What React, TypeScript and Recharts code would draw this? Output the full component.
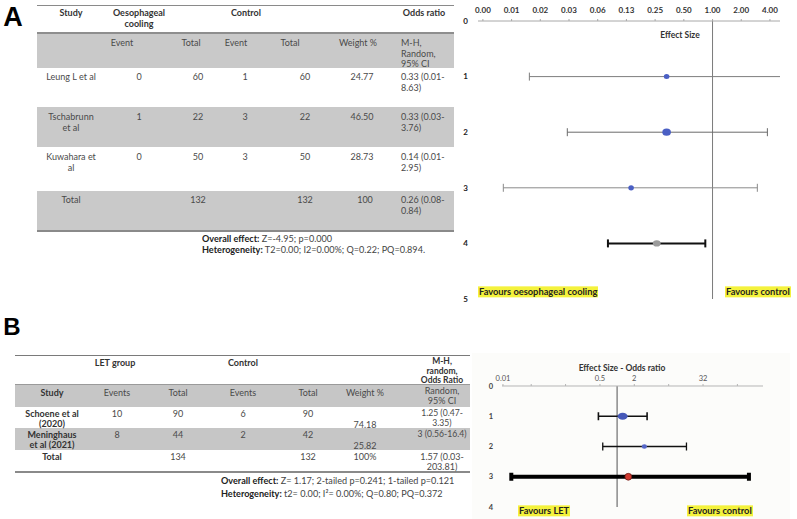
import React from 'react';
import { ScatterChart, Scatter, XAxis, YAxis, ErrorBar, ReferenceLine } from 'recharts';

const FONT = 'Lato, "Open Sans", sans-serif';

// ===== Panel A: table =====
const studiesA = ['Leung L et al', 'Tschabrunn\net al', 'Kuwahara et\nal'];
const coolingEventsA = [0, 1, 0];
const coolingTotalsA = [60, 22, 50];
const controlEventsA = [1, 3, 3];
const controlTotalsA = [60, 22, 50];
const weightsA = ['24.77', '46.50', '28.73'];
const ciTextA = ['0.33 (0.01-\n8.63)', '0.33 (0.03-\n3.76)', '0.14 (0.01-\n2.95)'];
const totalCoolingA = 132;
const totalControlA = 132;
const totalWeightA = '100';
const totalCiTextA = '0.26 (0.08-\n0.84)';
const overallEffectA = 'Z=-4.95; p=0.000';
const heterogeneityA = 'T2=0.00; I2=0.00%; Q=0.22; PQ=0.894.';

// ===== Panel A: forest plot =====
const forestRowsA = [1, 2, 3, 4];
const forestOrA = [0.33, 0.33, 0.14, 0.26];
const forestLowA = [0.012, 0.03, 0.0064, 0.08];
const forestHighA = [8.63, 3.76, 2.95, 0.84];
const xTicksA = [0.00390625, 0.0078125, 0.015625, 0.03125, 0.0625, 0.125, 0.25, 0.5, 1, 2, 4];
const yTicksA = [0, 1, 2, 3, 4, 5];

// ===== Panel B: table =====
const studiesB = ['Schoene et al\n(2020)', 'Meninghaus\net al (2021)'];
const letEventsB = [10, 8];
const letTotalsB = [90, 44];
const controlEventsB = [6, 2];
const controlTotalsB = [90, 42];
const weightsB = ['74.18', '25.82'];
const ciTextB = ['1.25 (0.47-\n3.35)', '3 (0.56-16.4)'];
const totalLetB = 134;
const totalControlB = 132;
const totalWeightB = '100%';
const totalCiTextB = '1.57 (0.03-\n203.81)';
const overallEffectB = 'Z= 1.17; 2-tailed p=0.241; 1-tailed p=0.121';
const heterogeneityB = 't2= 0.00; I\u00B2= 0.00%; Q=0.80; PQ=0.372';

// ===== Panel B: forest plot =====
const forestRowsB = [1, 2, 3];
const forestOrB = [1.25, 3, 1.57];
const forestLowB = [0.47, 0.56, 0.014];
const forestHighB = [3.35, 16.4, 203.81];
const xTicksB = [0.01, 0.03125, 0.125, 0.5, 2, 8, 32, 128];
const xTickLabelsB = ['0.01', '', '', '0.5', '2', '', '32', ''];
const yTicksB = [0, 1, 2, 3, 4];

// ===== styles =====
const markerStyleA = [
  { rx: 2.8, ry: 2.5, fill: '#4a5fc4', stroke: 'none' },
  { rx: 4.3, ry: 3.6, fill: '#4a5fc4', stroke: 'none' },
  { rx: 2.8, ry: 2.6, fill: '#4a5fc4', stroke: 'none' },
  { rx: 3.9, ry: 3.1, fill: '#9b9b9b', stroke: 'none' },
];
const ciStyleA = [
  { stroke: '#7d7d7d', width: 1 },
  { stroke: '#6a6a6a', width: 1 },
  { stroke: '#8a8a8a', width: 1 },
  { stroke: '#111111', width: 2 },
];
const markerStyleB = [
  { rx: 5, ry: 3.5, fill: '#4659b8', stroke: 'none' },
  { rx: 2.6, ry: 2.2, fill: '#5566c8', stroke: 'none' },
  { rx: 3.4, ry: 3.4, fill: '#d03a30', stroke: '#6a1a14' },
];
const ciStyleB = [
  { stroke: '#111111', width: 1.6 },
  { stroke: '#111111', width: 1.3 },
  { stroke: '#000000', width: 4 },
];

type TxtProps = {
  x: number; y: number; text: string | number; anchor?: 'start' | 'middle' | 'end';
  bold?: boolean; size?: number; color?: string; lh?: number; bg?: string; font?: string;
};
const Txt = ({ x, y, text, anchor = 'middle', bold = false, size = 9, color = '#4a4a4a', lh = 10.5, bg, font }: TxtProps) => {
  const lines = String(text).split('\n');
  const tx = anchor === 'start' ? '0' : anchor === 'end' ? '-100%' : '-50%';
  return (
    <>
      {lines.map((ln, i) => (
        <div
          key={i}
          style={{
            position: 'absolute', left: x, top: y + i * lh, transform: `translate(${tx}, -50%)`,
            fontSize: size, fontWeight: bold ? 700 : 400, color, whiteSpace: 'nowrap', lineHeight: 1,
            background: bg, padding: bg ? '1px 1px' : 0, fontFamily: font || FONT,
          }}
        >
          {ln}
        </div>
      ))}
    </>
  );
};

const Box = ({ x, y, w, h, c }: { x: number; y: number; w: number; h: number; c: string }) => (
  <div style={{ position: 'absolute', left: x, top: y, width: w, height: h, background: c }} />
);

const toLog = (v: number) => Math.log2(v);

const forestDataA = forestOrA.map((v, i) => ({
  x: toLog(v), y: forestRowsA[i],
  err: [toLog(v) - toLog(forestLowA[i]), toLog(forestHighA[i]) - toLog(v)],
}));
const forestDataB = forestOrB.map((v, i) => ({
  x: toLog(v), y: forestRowsB[i],
  err: [toLog(v) - toLog(forestLowB[i]), toLog(forestHighB[i]) - toLog(v)],
}));

const ForestA = () => (
  <ScatterChart width={320} height={310} margin={{ top: 0, right: 0, bottom: 11, left: 0 }}>
    <XAxis
      type="number" dataKey="x" orientation="top" domain={[-8.17, 2.35]} allowDataOverflow
      ticks={xTicksA.map(toLog)} interval={0}
      tickFormatter={(v: number) => Math.pow(2, v).toFixed(2)}
      height={21} axisLine={{ stroke: '#a8a8a8' }} tickLine={{ stroke: '#a8a8a8' }} tickSize={2} tickMargin={6}
      tick={{ fontSize: 8, fontWeight: 700, fill: '#333', fontFamily: FONT }}
    />
    <YAxis
      type="number" dataKey="y" domain={[0, 5]} reversed ticks={yTicksA} interval={0}
      width={18} axisLine={false} tickLine={false} tickSize={0} tickMargin={10}
      tick={{ fontSize: 8, fontWeight: 700, fill: '#222', fontFamily: FONT }}
    />
    <ReferenceLine x={0} stroke="#7a7a7a" strokeWidth={1} />
    {forestDataA.map((d, i) => (
      <Scatter
        key={i} data={[d]} isAnimationActive={false}
        shape={(p: any) => (
          <ellipse cx={p.cx} cy={p.cy} rx={markerStyleA[i].rx} ry={markerStyleA[i].ry}
            fill={markerStyleA[i].fill} stroke={markerStyleA[i].stroke} />
        )}
      >
        <ErrorBar dataKey="err" direction="x" width={4} stroke={ciStyleA[i].stroke}
          strokeWidth={ciStyleA[i].width} isAnimationActive={false} />
      </Scatter>
    ))}
  </ScatterChart>
);

const ForestB = () => (
  <ScatterChart width={318} height={166} margin={{ top: 0, right: 27, bottom: 12, left: 0 }}>
    <XAxis
      type="number" dataKey="x" orientation="top" domain={[-6.70, 8.49]} allowDataOverflow
      ticks={xTicksB.map(toLog)} interval={0}
      tickFormatter={(v: number) => {
        const idx = xTicksB.findIndex((t) => Math.abs(toLog(t) - v) < 1e-6);
        return idx >= 0 ? xTickLabelsB[idx] : '';
      }}
      height={33} axisLine={{ stroke: '#b5b5b5' }} tickLine={{ stroke: '#b5b5b5' }} tickSize={2} tickMargin={3}
      tick={{ fontSize: 7.5, fill: '#555', fontFamily: FONT }}
    />
    <YAxis
      type="number" dataKey="y" domain={[0, 4]} reversed ticks={yTicksB} interval={0}
      width={30} axisLine={false} tickLine={false} tickSize={0} tickMargin={9}
      tick={{ fontSize: 7.5, fontWeight: 700, fill: '#444', fontFamily: FONT }}
    />
    <ReferenceLine x={0} stroke="#8a8a8a" strokeWidth={1.5} />
    {forestDataB.map((d, i) => (
      <Scatter
        key={i} data={[d]} isAnimationActive={false}
        shape={(p: any) => (
          <ellipse cx={p.cx} cy={p.cy} rx={markerStyleB[i].rx} ry={markerStyleB[i].ry}
            fill={markerStyleB[i].fill} stroke={markerStyleB[i].stroke} strokeWidth={0.8} />
        )}
      >
        <ErrorBar dataKey="err" direction="x" width={4} stroke={ciStyleB[i].stroke}
          strokeWidth={ciStyleB[i].width} isAnimationActive={false} />
      </Scatter>
    ))}
  </ScatterChart>
);

// layout constants
const rowYA = [76, 116, 156];
const colA = { study: 71, ev1: 139, tot1: 198, ev2: 245, tot2: 305, w: 362, ci: 401 };
const rowYB = [413, 434];
const colB = { study: 52, ev1: 117, tot1: 178, ev2: 243, tot2: 308, w: 365, ci: 442 };

export default function App() {
  const sA = 9;
  const sB = 9;
  return (
    <div style={{ position: 'absolute', left: 0, top: 0, width: 797, height: 519, background: '#fff', overflow: 'hidden', fontFamily: FONT }}>
      {/* Panel labels */}
      <Txt x={13} y={17} text="A" bold size={27} color="#000" font='"Liberation Sans", Arial, sans-serif' />
      <Txt x={12} y={327} text="B" bold size={24} color="#000" font='"Liberation Sans", Arial, sans-serif' />

      {/* ===== Table A ===== */}
      <Box x={37} y={5} w={417} h={1} c="#8a8a8a" />
      <Box x={37} y={32} w={417} h={36} c="#c9c9c9" />
      <Box x={37} y={32} w={417} h={2} c="#8e8e8e" />
      <Box x={37} y={107} w={417} h={40} c="#c9c9c9" />
      <Box x={37} y={191} w={417} h={39} c="#c9c9c9" />
      <Box x={37} y={230} w={417} h={2} c="#8a8a8a" />

      <Txt x={71} y={12} text="Study" bold size={sA} color="#333" />
      <Txt x={139} y={12} text={'Oesophageal\ncooling'} bold size={sA} color="#333" />
      <Txt x={246} y={12} text="Control" bold size={sA} color="#333" />
      <Txt x={424} y={12} text="Odds ratio" bold size={sA} color="#333" />

      <Txt x={122} y={42} text="Event" size={sA} />
      <Txt x={191} y={42} text="Total" size={sA} />
      <Txt x={236} y={42} text="Event" size={sA} />
      <Txt x={290} y={42} text="Total" size={sA} />
      <Txt x={358} y={42} text="Weight %" size={sA} />
      <Txt x={401} y={42} text={'M-H,\nRandom,\n95% CI'} anchor="start" size={sA} />

      {studiesA.map((s, i) => (
        <React.Fragment key={i}>
          <Txt x={colA.study} y={rowYA[i]} text={s} size={sA} />
          <Txt x={colA.ev1} y={rowYA[i]} text={coolingEventsA[i]} size={sA} />
          <Txt x={colA.tot1} y={rowYA[i]} text={coolingTotalsA[i]} size={sA} />
          <Txt x={colA.ev2} y={rowYA[i]} text={controlEventsA[i]} size={sA} />
          <Txt x={colA.tot2} y={rowYA[i]} text={controlTotalsA[i]} size={sA} />
          <Txt x={colA.w} y={rowYA[i]} text={weightsA[i]} size={sA} />
          <Txt x={colA.ci} y={rowYA[i]} text={ciTextA[i]} anchor="start" size={sA} />
        </React.Fragment>
      ))}
      <Txt x={colA.study} y={199} text="Total" size={sA} />
      <Txt x={colA.tot1} y={199} text={totalCoolingA} size={sA} />
      <Txt x={colA.tot2} y={199} text={totalControlA} size={sA} />
      <Txt x={365} y={199} text={totalWeightA} size={sA} />
      <Txt x={colA.ci} y={199} text={totalCiTextA} anchor="start" size={sA} />

      <div style={{ position: 'absolute', left: 202, top: 234, fontSize: 9.1, color: '#444', lineHeight: '10.5px', whiteSpace: 'nowrap' }}>
        <div><b style={{ color: '#222' }}>Overall effect:</b> {overallEffectA}</div>
        <div><b style={{ color: '#222' }}>Heterogeneity:</b> {heterogeneityA}</div>
      </div>

      {/* ===== Forest A ===== */}
      <div style={{ position: 'absolute', left: 460, top: 0 }}>
        <ForestA />
      </div>
      <Txt x={680} y={35} text="Effect Size" bold size={8.5} color="#333" />
      <Txt x={478} y={292} text="Favours oesophageal cooling" anchor="start" bold size={9.3} color="#222" bg="#f4f23c" />
      <Txt x={725} y={292} text="Favours control" anchor="start" bold size={9.3} color="#222" bg="#f4f23c" />

      {/* ===== Table B ===== */}
      <Box x={15} y={355} w={455} h={1} c="#7a7a7a" />
      <Box x={15} y={385} w={455} h={22} c="#c6c6c6" />
      <Box x={15} y={384} w={455} h={1} c="#9a9a9a" />
      <Box x={15} y={428} w={455} h={22} c="#c6c6c6" />
      <Box x={15} y={471} w={455} h={2} c="#8a8a8a" />

      <Txt x={115} y={362} text="LET group" bold size={sB} color="#333" />
      <Txt x={243} y={362} text="Control" bold size={sB} color="#333" />
      <Txt x={442} y={361} text={'M-H,\nrandom,\nOdds Ratio'} bold size={8.5} color="#333" lh={9.5} />

      <Txt x={colB.study} y={392} text="Study" bold size={sB} color="#333" />
      <Txt x={colB.ev1} y={392} text="Events" size={sB} />
      <Txt x={colB.tot1} y={392} text="Total" size={sB} />
      <Txt x={colB.ev2} y={392} text="Events" size={sB} />
      <Txt x={colB.tot2} y={392} text="Total" size={sB} />
      <Txt x={colB.w} y={392} text="Weight %" size={sB} />
      <Txt x={colB.ci} y={390} text={'Random,\n95% CI'} size={sB} lh={9.8} />

      {studiesB.map((s, i) => (
        <React.Fragment key={i}>
          <Txt x={colB.study} y={rowYB[i]} text={s} bold size={sB} color="#333" lh={9.8} />
          <Txt x={colB.ev1} y={rowYB[i]} text={letEventsB[i]} size={sB} />
          <Txt x={colB.tot1} y={rowYB[i]} text={letTotalsB[i]} size={sB} />
          <Txt x={colB.ev2} y={rowYB[i]} text={controlEventsB[i]} size={sB} />
          <Txt x={colB.tot2} y={rowYB[i]} text={controlTotalsB[i]} size={sB} />
          <Txt x={colB.w} y={rowYB[i] + 11} text={weightsB[i]} size={sB} />
          <Txt x={colB.ci} y={rowYB[i]} text={ciTextB[i]} size={8.6} lh={9.8} />
        </React.Fragment>
      ))}
      <Txt x={colB.study} y={456} text="Total" bold size={sB} color="#333" />
      <Txt x={colB.tot1} y={456} text={totalLetB} size={sB} />
      <Txt x={colB.tot2} y={456} text={totalControlB} size={sB} />
      <Txt x={colB.w} y={456} text={totalWeightB} size={sB} />
      <Txt x={colB.ci} y={456} text={totalCiTextB} size={sB} lh={9.8} />

      <div style={{ position: 'absolute', left: 221, top: 474, fontSize: 9.1, color: '#444', lineHeight: '13px', whiteSpace: 'nowrap' }}>
        <div><b style={{ color: '#222' }}>Overall effect:</b> {overallEffectB}</div>
        <div><b style={{ color: '#222' }}>Heterogeneity:</b> {heterogeneityB}</div>
      </div>

      {/* ===== Forest B ===== */}
      <div style={{ position: 'absolute', left: 472, top: 353, width: 318, height: 166, background: '#fcfcfa' }}>
        <ForestB />
      </div>
      <Txt x={622} y={368} text="Effect Size - Odds ratio" bold size={8.5} color="#333" />
      <Txt x={518} y={511} text="Favours LET" anchor="start" bold size={9.3} color="#222" bg="#f4f23c" />
      <Txt x={687} y={511} text="Favours control" anchor="start" bold size={9.3} color="#222" bg="#f4f23c" />
    </div>
  );
}
